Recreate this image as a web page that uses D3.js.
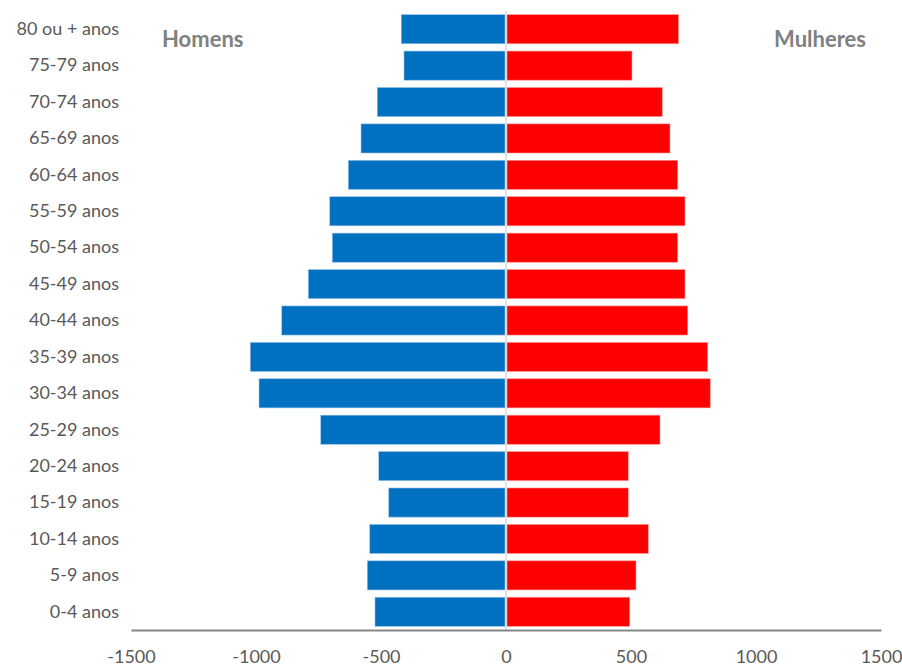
<!DOCTYPE html>
<html>
<head>
<meta charset="utf-8">
<script src="https://cdn.jsdelivr.net/npm/d3@7"></script>
<style>
  html, body { margin: 0; padding: 0; background: #fff; }
  svg { display: block; }
  text { font-family: Lato, "Open Sans", sans-serif; }
</style>
</head>
<body>
<svg id="chart" width="902" height="666"></svg>
<script>
// Age groups, oldest at the top
const ageGroups = ["80 ou + anos", "75-79 anos", "70-74 anos", "65-69 anos", "60-64 anos",
  "55-59 anos", "50-54 anos", "45-49 anos", "40-44 anos", "35-39 anos", "30-34 anos",
  "25-29 anos", "20-24 anos", "15-19 anos", "10-14 anos", "5-9 anos", "0-4 anos"];

// Men (drawn to the left as negative values)
const homens = [-419, -408, -515, -580, -631, -705, -695, -791, -897, -1023, -988,
  -741, -509, -469, -545, -555, -524];

// Women
const mulheres = [690, 504, 625, 656, 687, 716, 687, 716, 727, 807, 817,
  616, 489, 489, 569, 520, 495];

const xTicks = [-1500, -1000, -500, 0, 500, 1000, 1500];

const svg = d3.select("#chart");
const margin = { left: 131, right: 21, top: 11, bottom: 36 };
const W = 902, H = 666;

const x = d3.scaleLinear().domain([-1500, 1500]).range([margin.left, W - margin.right]);
const y = d3.scaleBand().domain(ageGroups).range([margin.top, H - margin.bottom])
  .paddingInner(0.2).paddingOuter(0.1);

const rows = ageGroups.map((g, i) => ({ g, h: homens[i], m: mulheres[i] }));

// Men bars
svg.append("g").selectAll("rect").data(rows).join("rect")
  .attr("x", d => x(d.h))
  .attr("y", d => y(d.g))
  .attr("width", d => x(0) - x(d.h) - 1)
  .attr("height", y.bandwidth())
  .attr("fill", "#0070C0")
  .attr("stroke", "#9dc3e6")
  .attr("stroke-width", 0.6);

// Women bars
svg.append("g").selectAll("rect").data(rows).join("rect")
  .attr("x", x(0) + 1)
  .attr("y", d => y(d.g))
  .attr("width", d => x(d.m) - x(0) - 1)
  .attr("height", y.bandwidth())
  .attr("fill", "#FF0000")
  .attr("stroke", "#ff9a9a")
  .attr("stroke-width", 0.6);

// Vertical zero line
svg.append("line")
  .attr("x1", x(0)).attr("x2", x(0))
  .attr("y1", margin.top).attr("y2", H - margin.bottom)
  .attr("stroke", "#d9d9d9").attr("stroke-width", 1.5);

// Horizontal axis (plain hyphen for negatives)
const xAxis = svg.append("g")
  .attr("transform", `translate(0,${H - margin.bottom})`)
  .call(d3.axisBottom(x).tickValues(xTicks).tickSize(0).tickPadding(20)
    .tickFormat(d => String(d)));
xAxis.select(".domain").attr("stroke", "#868686").attr("stroke-width", 2);
xAxis.selectAll("text").attr("font-size", 18).attr("fill", "#595959")
  .attr("font-family", "Lato, sans-serif");

// Category labels
const yAxis = svg.append("g")
  .attr("transform", `translate(${margin.left},0)`)
  .call(d3.axisLeft(y).tickSize(0).tickPadding(12));
yAxis.select(".domain").remove();
yAxis.selectAll("text").attr("font-size", 18).attr("fill", "#595959")
  .attr("font-family", "Lato, sans-serif");

// Series titles
svg.append("text").attr("x", 162).attr("y", 47)
  .attr("font-size", 22).attr("font-weight", "bold").attr("fill", "#808080")
  .text("Homens");
svg.append("text").attr("x", 866).attr("y", 47).attr("text-anchor", "end")
  .attr("font-size", 22).attr("font-weight", "bold").attr("fill", "#808080")
  .text("Mulheres");
</script>
</body>
</html>
